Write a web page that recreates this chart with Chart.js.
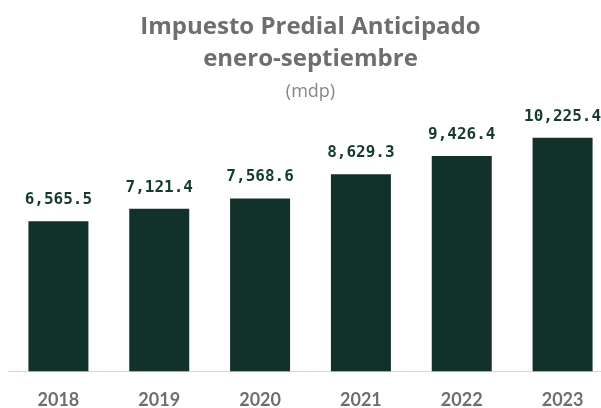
<!DOCTYPE html>
<html>
<head>
<meta charset="utf-8">
<script src="https://cdn.jsdelivr.net/npm/chart.js@4/dist/chart.umd.min.js"></script>
<style>
html,body{margin:0;padding:0;overflow:hidden;background:#fff;width:601px;height:408px;}
#c{position:absolute;left:0;top:0;}
</style>
</head>
<body>
<canvas id="c" width="640" height="438" style="width:640px;height:438px"></canvas>
<script>
const categories = ['2018','2019','2020','2021','2022','2023'];
const values = [6565.5, 7121.4, 7568.6, 8629.3, 9426.4, 10225.4];
const titleLines = ['Impuesto Predial Anticipado','enero-septiembre'];
const subtitleText = '(mdp)';

const barColor = '#12312b';
const labelColor = '#163a32';
const grayText = '#6e6e6e';

const fmt = v => v.toLocaleString('en-US',{minimumFractionDigits:1,maximumFractionDigits:1});

const valueLabels = {
  id:'valueLabels',
  afterDatasetsDraw(chart){
    const ctx = chart.ctx;
    const meta = chart.getDatasetMeta(0);
    ctx.save();
    ctx.font = 'bold 16px "DejaVu Sans Mono"';
    ctx.fillStyle = labelColor;
    ctx.textAlign = 'center';
    ctx.textBaseline = 'alphabetic';
    meta.data.forEach((bar,i)=>{
      ctx.fillText(fmt(values[i]), bar.x, bar.y - 17);
    });
    ctx.restore();
  }
};

new Chart(document.getElementById('c'),{
  type:'bar',
  data:{
    labels:categories,
    datasets:[{data:values,backgroundColor:barColor,borderWidth:0,barPercentage:0.595,categoryPercentage:1}]
  },
  options:{
    responsive:false,
    animation:false,
    devicePixelRatio:1,
    layout:{padding:{left:8,right:27,top:0,bottom:9}},
    plugins:{
      legend:{display:false},
      tooltip:{enabled:false},
      title:{display:true,text:titleLines,color:grayText,font:{family:'Open Sans',size:24,weight:'bold',lineHeight:1.3},padding:{top:12,bottom:0}},
      subtitle:{display:true,text:subtitleText,color:'#858585',font:{family:'Open Sans',size:18,weight:'normal',lineHeight:1.2},padding:{top:7,bottom:17}}
    },
    scales:{
      x:{
        grid:{display:false,drawTicks:false},
        border:{display:true,color:'#d6d6d6',width:1},
        ticks:{color:grayText,font:{family:'Lato',size:18,weight:'bold'},padding:18}
      },
      y:{display:false,min:0,max:11000}
    }
  },
  plugins:[valueLabels]
});
</script>
</body>
</html>
